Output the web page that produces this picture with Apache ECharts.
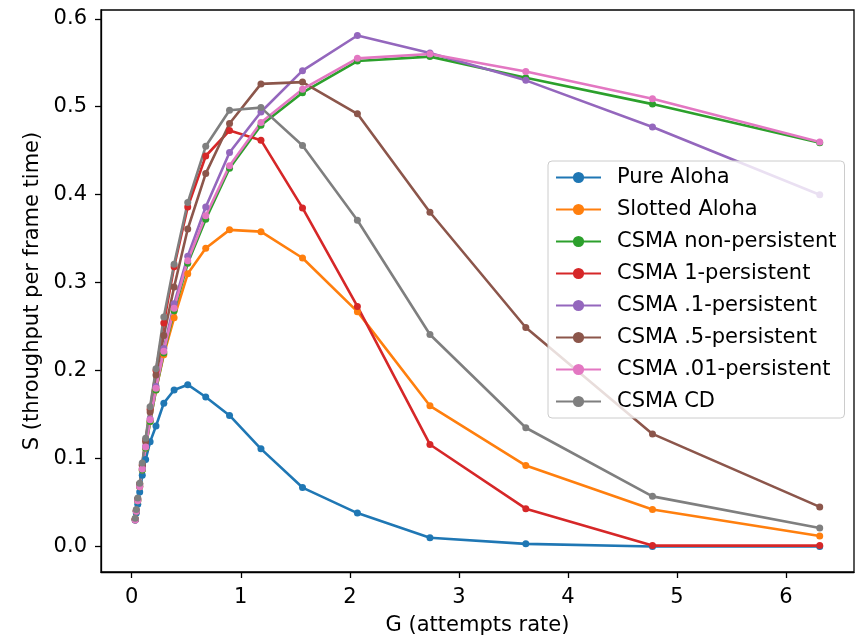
<!DOCTYPE html>
<html>
<head>
<meta charset="utf-8">
<script src="https://cdn.jsdelivr.net/npm/echarts@6/dist/echarts.min.js"></script>
<style>
  html, body { margin: 0; padding: 0; background: #fff; }
  #chart { width: 856px; height: 635px; }
</style>
</head>
<body>
<div id="chart"></div>
<script>
// offered load G (x values, log spaced)
var G = [0.0316, 0.0418, 0.0552, 0.0730, 0.0964, 0.1274, 0.1684, 0.2225, 0.2941, 0.3886,
         0.5135, 0.6786, 0.8968, 1.1851, 1.5661, 2.0695, 2.7348, 3.6140, 4.7758, 6.3096];

// throughput S
var pureAloha    = [0.030, 0.038, 0.048, 0.062, 0.081, 0.099, 0.119, 0.137, 0.163, 0.178, 0.184, 0.170, 0.149, 0.111, 0.067, 0.038, 0.010, 0.003, 0.000, 0.000];
var slottedAloha = [0.031, 0.040, 0.052, 0.068, 0.087, 0.112, 0.142, 0.178, 0.218, 0.260, 0.310, 0.339, 0.360, 0.358, 0.328, 0.267, 0.160, 0.092, 0.042, 0.012];
var csmaNonPers  = [0.030, 0.040, 0.052, 0.068, 0.087, 0.112, 0.142, 0.178, 0.220, 0.268, 0.322, 0.372, 0.430, 0.479, 0.516, 0.552, 0.557, 0.533, 0.503, 0.459];
var csma1Pers    = [0.031, 0.041, 0.054, 0.071, 0.093, 0.121, 0.156, 0.200, 0.254, 0.318, 0.386, 0.444, 0.473, 0.462, 0.385, 0.273, 0.116, 0.043, 0.001, 0.001];
var csma01Pers   = [0.030, 0.040, 0.053, 0.069, 0.089, 0.114, 0.145, 0.182, 0.225, 0.276, 0.330, 0.386, 0.448, 0.494, 0.541, 0.581, 0.561, 0.530, 0.477, 0.400];
var csma05Pers   = [0.031, 0.041, 0.054, 0.071, 0.092, 0.119, 0.153, 0.195, 0.240, 0.295, 0.361, 0.424, 0.481, 0.526, 0.528, 0.492, 0.380, 0.249, 0.128, 0.045];
var csma001Pers  = [0.030, 0.040, 0.052, 0.068, 0.088, 0.113, 0.144, 0.180, 0.222, 0.271, 0.325, 0.376, 0.433, 0.482, 0.520, 0.555, 0.560, 0.540, 0.509, 0.460];
var csmaCD       = [0.032, 0.042, 0.055, 0.072, 0.095, 0.123, 0.159, 0.202, 0.261, 0.321, 0.391, 0.455, 0.496, 0.499, 0.456, 0.371, 0.241, 0.135, 0.057, 0.021];

var names = ['Pure Aloha', 'Slotted Aloha', 'CSMA non-persistent', 'CSMA 1-persistent',
             'CSMA .1-persistent', 'CSMA .5-persistent', 'CSMA .01-persistent', 'CSMA CD'];
var values = [pureAloha, slottedAloha, csmaNonPers, csma1Pers, csma01Pers, csma05Pers, csma001Pers, csmaCD];
var colors = ['#1f77b4', '#ff7f0e', '#2ca02c', '#d62728', '#9467bd', '#8c564b', '#e377c2', '#7f7f7f'];

var xTicks = [0, 1, 2, 3, 4, 5, 6];
var yTicks = [0.0, 0.1, 0.2, 0.3, 0.4, 0.5, 0.6];

var font = 'DejaVu Sans';
var fs = 21;
var chart = echarts.init(document.getElementById('chart'));

var series = names.map(function (n, i) {
  return {
    name: n,
    type: 'line',
    data: G.map(function (g, j) { return [g, values[i][j]]; }),
    symbol: 'circle',
    symbolSize: 7,
    showSymbol: true,
    lineStyle: { width: 2.6, color: colors[i] },
    itemStyle: { color: colors[i] },
    emphasis: { disabled: true },
    animation: false
  };
});

chart.setOption({
  animation: false,
  grid: {
    left: 101, right: 2, top: 10, bottom: 63,
    outerBoundsMode: 'none',
    containLabel: false,
    show: true, borderColor: '#000', borderWidth: 1.3, backgroundColor: '#fff'
  },
  xAxis: {
    type: 'value',
    min: -0.282, max: 6.624,
    name: 'G (attempts rate)',
    nameLocation: 'middle',
    nameGap: 43,
    nameTextStyle: { fontFamily: font, fontSize: fs, color: '#000' },
    axisLine: { show: true, onZero: false, lineStyle: { color: '#000', width: 1.3 } },
    axisTick: { show: true, length: 6, customValues: xTicks, lineStyle: { color: '#000', width: 1.3 } },
    axisLabel: { customValues: xTicks, margin: 15, fontFamily: font, fontSize: fs, color: '#000' },
    splitLine: { show: false }
  },
  yAxis: {
    type: 'value',
    min: -0.029, max: 0.610,
    name: 'S (throughput per frame time)',
    nameLocation: 'middle',
    nameGap: 57,
    nameTextStyle: { fontFamily: font, fontSize: fs, color: '#000' },
    axisLine: { show: true, onZero: false, lineStyle: { color: '#000', width: 1.3 } },
    axisTick: { show: true, length: 6, customValues: yTicks, lineStyle: { color: '#000', width: 1.3 } },
    axisLabel: {
      customValues: yTicks, margin: 14, fontFamily: font, fontSize: fs, color: '#000',
      formatter: function (v) { return v.toFixed(1); }
    },
    splitLine: { show: false }
  },
  legend: {
    orient: 'vertical',
    left: 548, top: 161,
    padding: [6, 8, 6, 7],
    itemWidth: 45, itemHeight: 14, itemGap: 11,
    backgroundColor: 'rgba(255,255,255,0.8)',
    borderColor: '#cccccc', borderWidth: 1, borderRadius: 4,
    textStyle: { fontFamily: font, fontSize: fs, color: '#000', padding: [0, 0, 0, 11] },
    data: names
  },
  series: series
});
</script>
</body>
</html>
